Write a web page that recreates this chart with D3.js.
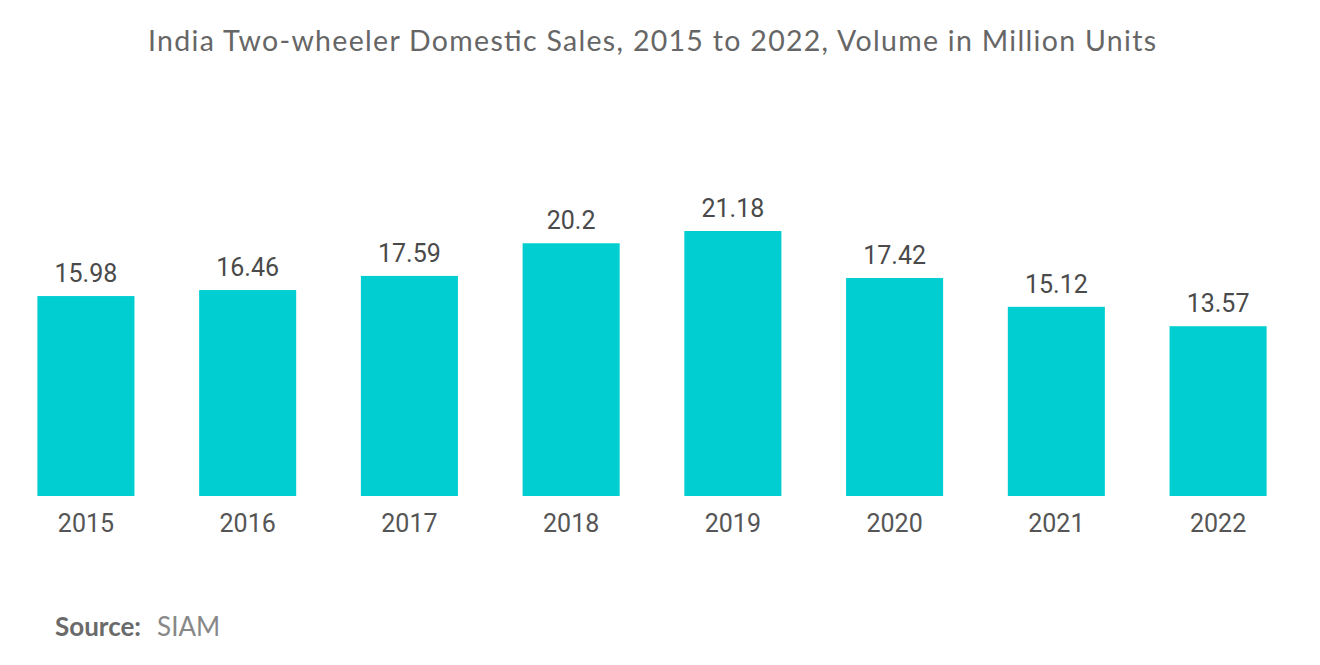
<!DOCTYPE html>
<html>
<head>
<meta charset="utf-8">
<script src="https://cdn.jsdelivr.net/npm/d3@7"></script>
<style>
  body { margin: 0; background: #fff; }
</style>
</head>
<body>
<div id="chart"></div>
<script>
// data
var years = ["2015", "2016", "2017", "2018", "2019", "2020", "2021", "2022"];
var sales = [15.98, 16.46, 17.59, 20.2, 21.18, 17.42, 15.12, 13.57];
var labels = ["15.98", "16.46", "17.59", "20.2", "21.18", "17.42", "15.12", "13.57"];

var width = 1320, height = 665;
var margin = {top: 0, left: 18, right: 34, bottom: 0};
var baseline = 496;

var svg = d3.select("#chart")
  .append("svg")
    .attr("width", width)
    .attr("height", height);

var xScale = d3.scaleBand()
  .domain(years)
  .range([margin.left, width - margin.right])
  .paddingInner(0.4)
  .paddingOuter(0.12);

var yScale = d3.scaleLinear()
  .domain([0, 21.18])
  .range([baseline, 231]);

svg.append("text")
  .attr("x", 652)
  .attr("y", 51)
  .attr("text-anchor", "middle")
  .attr("textLength", 1008)
  .attr("lengthAdjust", "spacing")
  .style("font-family", "Lato, 'Open Sans', sans-serif")
  .style("font-size", "28.5px")
  .style("fill", "#666")
  .text("India Two-wheeler Domestic Sales, 2015 to 2022, Volume in Million Units");

var bars = svg.selectAll(".bar")
  .data(years)
  .enter()
  .append("rect")
    .attr("class", "bar")
    .attr("x", function(d) { return xScale(d); })
    .attr("width", xScale.bandwidth())
    .attr("y", function(d, i) { return yScale(sales[i]); })
    .attr("height", function(d, i) { return baseline - yScale(sales[i]); })
    .attr("fill", "#00CED1");

svg.selectAll(".val")
  .data(years)
  .enter()
  .append("text")
    .attr("class", "val")
    .attr("x", function(d) { return xScale(d) + xScale.bandwidth() / 2; })
    .attr("y", function(d, i) { return yScale(sales[i]) - 14; })
    .attr("text-anchor", "middle")
    .style("font-family", "Roboto, sans-serif")
    .style("font-size", "25px")
    .style("fill", "#4a4a4a")
    .text(function(d, i) { return labels[i]; });

var xAxis = svg.append("g")
  .attr("transform", "translate(0," + baseline + ")")
  .call(d3.axisBottom(xScale).tickSize(0).tickPadding(18));
xAxis.select(".domain").remove();
xAxis.selectAll("text")
  .attr("dy", "0.71em")
  .style("font-family", "Roboto, sans-serif")
  .style("font-size", "25px")
  .style("fill", "#555");

var source = svg.append("text")
  .attr("x", 55)
  .attr("y", 636)
  .style("font-family", "Lato, sans-serif")
  .style("font-size", "26px")
  .style("fill", "#6a6a6a");
source.append("tspan").style("font-weight", "bold").text("Source:");
source.append("tspan").attr("dx", 16).style("fill", "#888").text("SIAM");
</script>
</body>
</html>
